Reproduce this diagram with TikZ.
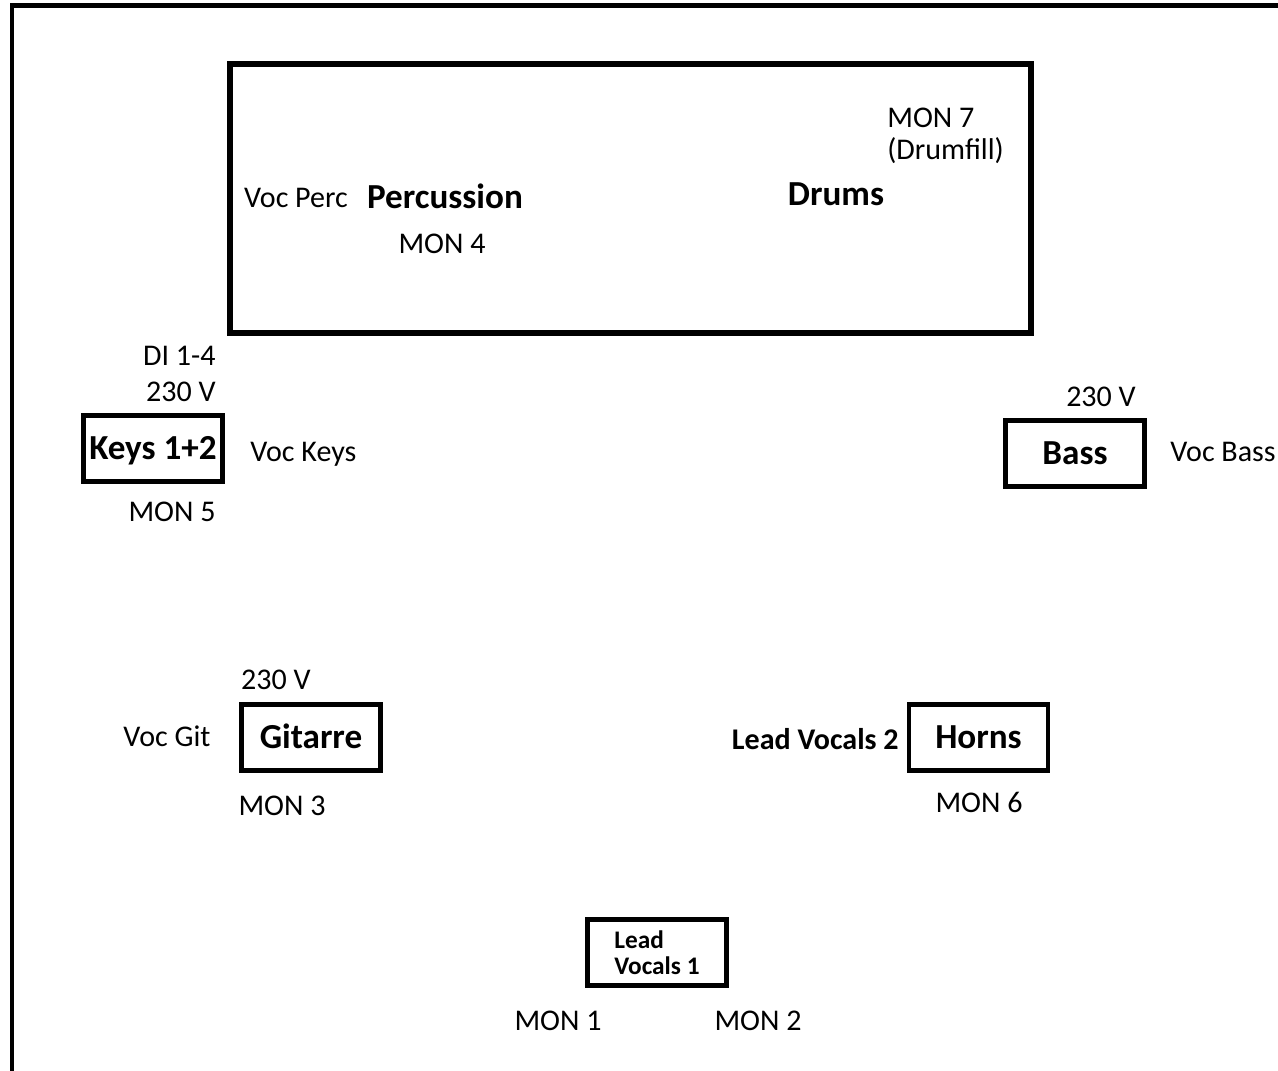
\documentclass[tikz,border=0pt]{standalone}
\usepackage{fontspec}
\setmainfont{Carlito}
\usetikzlibrary{positioning}

\begin{document}
\begin{tikzpicture}[
    x=0.02cm, y=-0.02cm,
    frame/.style={line width=2.8pt, line join=miter},
    riser/.style={rectangle, draw, line width=3pt, minimum width=16.02cm, minimum height=5.38cm},
    instr/.style={rectangle, draw, line width=2.4pt, minimum width=2.78cm, minimum height=1.32cm, inner sep=0pt, text height=12.6pt, text depth=0pt, font=\fontsize{20}{22}\selectfont\bfseries},
    vocbox/.style={rectangle, draw, line width=2.4pt, minimum width=2.78cm, minimum height=1.32cm, inner sep=0pt, align=left, font=\fontsize{14.4}{14.7}\selectfont\bfseries},
    lbl/.style={inner sep=0pt, text height=10.8pt, text depth=0pt, font=\fontsize{17.1}{18.1}\selectfont},
    boldlbl/.style={lbl, font=\fontsize{17.1}{18.1}\selectfont\bfseries},
    head/.style={lbl, text height=12.6pt, font=\fontsize{20}{22}\selectfont\bfseries},
]
\useasboundingbox (0,0) rectangle (1278,1071);
\draw[frame] (12,1071) -- (12,5.5) -- (1278,5.5);

% drum riser
\node[riser] (riser) at (630.5,198.5) {};
\node[lbl] (vocperc) at (296,198) {Voc Perc};
\node[head] (perc) at (445,197) {Percussion};
\node[lbl] (mon4) at (442,244) {MON 4};
\node[head] (drums) at (836,194) {Drums};
\node[inner sep=0pt, align=left, anchor=west, font=\fontsize{17.1}{18.4}\selectfont] (mon7) at (887,136) {MON 7\\(Drumfill)};

% keys
\node[instr] (keys) at (153,448.5) {Keys 1+2};
\node[lbl, anchor=east] (di) at (216,356) {DI 1-4};
\node[lbl, anchor=east] (pwrkeys) at (216,392) {230 V};
\node[lbl, anchor=west] (vockeys) at (250,452) {Voc Keys};
\node[lbl] (mon5) at (172,512) {MON 5};

% bass
\node[instr] (bass) at (1075,453.5) {Bass};
\node[lbl] (pwrbass) at (1101,397) {230 V};
\node[lbl, anchor=west] (vocbass) at (1170,452) {Voc Bass};

% guitar
\node[instr] (git) at (311,737.5) {Gitarre};
\node[lbl] (pwrgit) at (276,680) {230 V};
\node[lbl] (vocgit) at (167,737) {Voc Git};
\node[lbl] (mon3) at (282,806) {MON 3};

% horns
\node[instr] (horns) at (978.5,737.5) {Horns};
\node[boldlbl, anchor=east] (lv2) at (899,740) {Lead Vocals 2};
\node[lbl] (mon6) at (979,803) {MON 6};

% lead vocals
\node[vocbox] (lv1) at (657,952.5) {Lead\\Vocals 1};
\node[lbl] (mon1) at (558,1021) {MON 1};
\node[lbl] (mon2) at (758,1021) {MON 2};
\end{tikzpicture}
\end{document}
